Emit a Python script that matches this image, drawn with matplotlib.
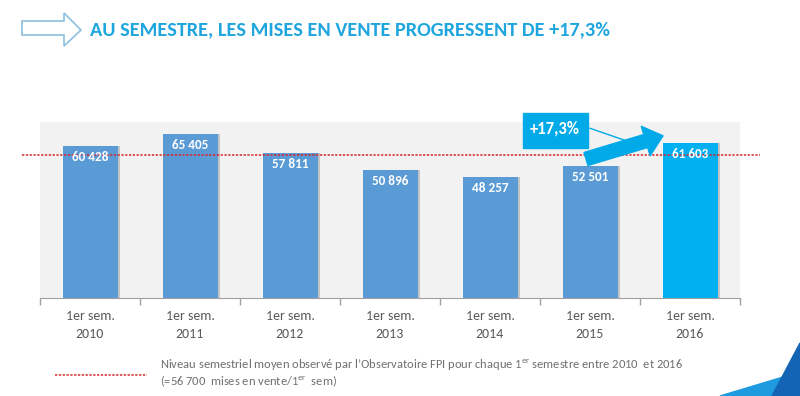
import numpy as np
import matplotlib
matplotlib.use("Agg")
import matplotlib.pyplot as plt
from matplotlib.patches import Polygon, Rectangle
from matplotlib import font_manager

years = ['2010', '2011', '2012', '2013', '2014', '2015', '2016']
values = [60428, 65405, 57811, 50896, 48257, 52501, 61603]
value_labels = ['60 428', '65 405', '57 811', '50 896', '48 257', '52 501', '61 603']
average = 56700
growth_label = '+17,3%'
title = 'AU SEMESTRE, LES MISES EN VENTE PROGRESSENT DE +17,3%'
legend_line1 = (r"Niveau semestriel moyen observé par l’Observatoire FPI pour chaque "
                r"1$^{\mathrm{er}}$ semestre entre 2010  et 2016")
legend_line2 = r"(=56 700  mises en vente/1$^{\mathrm{er}}$  sem)"

names = {f.name for f in font_manager.fontManager.ttflist}
main_font = next((f for f in ['Carlito', 'Lato', 'Open Sans'] if f in names), 'DejaVu Sans')
plt.rcParams['font.family'] = [main_font, 'DejaVu Sans']
plt.rcParams['mathtext.fontset'] = 'custom'
plt.rcParams['mathtext.rm'] = main_font

W, H = 800, 396


def px(x, y):
    return (x / W, 1 - y / H)


fig = plt.figure(figsize=(8, 3.96), dpi=100)
fig.set_facecolor('#FFFFFF')
ax = fig.add_axes([40 / W, 1 - 298 / H, 700 / W, 176 / H])
ax.set_facecolor('#F2F2F2')

x = np.arange(len(years))
colors = ['#5B9BD5'] * (len(years) - 1) + ['#00B0F0']
# soft shadow
ax.bar(x + 0.025, values, width=0.55, color='#8C8C8C', alpha=0.45, zorder=1)
bars = ax.bar(x, values, width=0.55, color=colors, zorder=2)
for xi, v, lab in zip(x, values, value_labels):
    ax.text(xi, v - 2000, lab, ha='center', va='top', color='white',
            fontsize=9.5, fontweight='bold', zorder=4)

ax.set_xlim(-0.5, len(years) - 0.5)
ax.set_ylim(0, 70000)
ax.set_yticks([])
ax.set_xticks(np.arange(-0.5, len(years), 1.0))
ax.set_xticklabels([])
ax.tick_params(axis='x', length=5, color='#A0A0A0', width=1)
for s in ['top', 'right', 'left']:
    ax.spines[s].set_visible(False)
ax.spines['bottom'].set_color('#A0A0A0')
for xi, yr in zip(x, years):
    ax.text(xi, -7300, '1er sem.', ha='center', va='center', color='#595959',
            fontsize=10)
    ax.text(xi, -14300, yr, ha='center', va='center', color='#595959',
            fontsize=10)

# average line, extending past the plot area
ax.plot([-0.68, 6.7], [average, average], ls=(0, (1.5, 1)), color='#D9262B',
        lw=1.1, zorder=3, clip_on=False)

# growth callout
ax.annotate('', xy=(5.73, 64500), xytext=(4.96, 55300),
            arrowprops=dict(arrowstyle='simple,head_length=1.0,head_width=1.7,tail_width=0.75',
                            color='#00A9E8', mutation_scale=13, shrinkA=0, shrinkB=0),
            annotation_clip=False, zorder=5)
ax.plot([5.0, 5.4], [67500, 62000], color='#00A9E8', lw=1, zorder=5, clip_on=False)
fig.add_artist(Rectangle(px(523, 148), 65 / W, 35 / H, transform=fig.transFigure,
                         color='#00A9E8', zorder=6))
fig.text(*px(555, 129), growth_label, ha='center', va='center', color='white',
         fontsize=12, fontweight='bold', zorder=7)

# title with outlined arrow
arrow_pts = [px(22, 21), px(64, 21), px(64, 13), px(81, 30), px(64, 46),
             px(64, 35), px(22, 35)]
fig.add_artist(Polygon(arrow_pts, closed=True, fill=False, edgecolor='#8CC0E0',
                       lw=1.2, transform=fig.transFigure))
fig.text(*px(90, 30), title, ha='left', va='center', color='#1FA6DE',
         fontsize=14.6, fontweight='bold')

# legend
fig.add_artist(plt.Line2D([55 / W, 147 / W], [1 - 375 / H] * 2, ls=(0, (1.5, 1)),
                          color='#D9262B', lw=1.1, transform=fig.transFigure))
fig.text(*px(160, 365), legend_line1, ha='left', va='center', color='#707070',
         fontsize=9)
fig.text(*px(160, 381), legend_line2, ha='left', va='center', color='#707070',
         fontsize=9)

# corner decoration
fig.add_artist(Polygon([px(720, 396), px(783, 377), px(800, 352), px(800, 396)],
                       closed=True, color='#1E9BE0', transform=fig.transFigure))
fig.add_artist(Polygon([px(772, 396), px(800, 343), px(800, 396)],
                       closed=True, color='#1464B4', transform=fig.transFigure))

fig.savefig('out.png', dpi=100)
